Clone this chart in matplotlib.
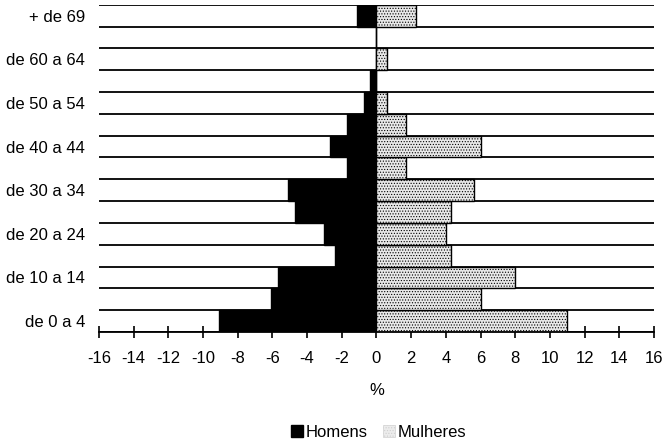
import numpy as np
import matplotlib
matplotlib.use("Agg")
import matplotlib.pyplot as plt
from matplotlib.patches import Patch

plt.rcParams['font.family'] = ['Liberation Sans', 'DejaVu Sans']
plt.rcParams['axes.unicode_minus'] = False
plt.rcParams['hatch.color'] = '#a8a8a8'
plt.rcParams['hatch.linewidth'] = 0.5

# age groups, bottom to top
groups = ["de 0 a 4", "de 5 a 9", "de 10 a 14", "de 15 a 19", "de 20 a 24",
          "de 25 a 29", "de 30 a 34", "de 35 a 39", "de 40 a 44", "de 45 a 49",
          "de 50 a 54", "de 55 a 59", "de 60 a 64", "de 65 a 69", "+ de 69"]
homens = [9.1, 6.1, 5.7, 2.4, 3.0, 4.7, 5.1, 1.7, 2.7, 1.7, 0.7, 0.4, 0.0, 0.0, 1.1]
mulheres = [11.0, 6.0, 8.0, 4.3, 4.0, 4.3, 5.6, 1.7, 6.0, 1.7, 0.6, 0.0, 0.6, 0.0, 2.3]
xmax = 16

fig = plt.figure(figsize=(6.64, 4.42), dpi=100)
ax = fig.add_axes([0.149, 0.249, 0.836, 0.74])

y = np.arange(len(groups))
h = -np.array(homens)
m = np.array(mulheres)

# row separators
ax.hlines(np.arange(len(groups) + 1) - 0.5, -xmax, xmax, color='black', lw=1.3, zorder=1)

ax.barh(y, h, height=1.0, color='black', edgecolor='black', lw=1.0, zorder=2)
ax.barh(y, m, height=1.0, color='#e8e8e8', edgecolor='black', lw=1.0,
        hatch='......', zorder=2)

ax.set_xlim(-xmax, xmax)
ax.set_ylim(-0.5, len(groups) - 0.5)
ax.set_xticks(np.arange(-16, 17, 2))
ax.set_yticks(y[::2])
ax.set_yticklabels(groups[::2])

for s in ['top', 'right', 'left']:
    ax.spines[s].set_visible(False)
ax.spines['bottom'].set_linewidth(1.3)
ax.tick_params(axis='x', direction='inout', length=8, width=1.2, pad=10, labelsize=12)
ax.tick_params(axis='y', length=0, pad=10, labelsize=12)
ax.set_xlabel('%', fontsize=12, labelpad=12)

handles = [Patch(facecolor='black', edgecolor='black', label='Homens'),
           Patch(facecolor='#ececec', edgecolor='#d0d0d0', hatch='......', lw=0.5,
                 label='Mulheres')]
fig.legend(handles=handles, loc='center', bbox_to_anchor=(0.57, 0.022), ncol=2,
           frameon=False, fontsize=12, handlelength=0.75, handleheight=0.75,
           handletextpad=0.15, columnspacing=0.9, borderpad=0)

fig.savefig('out.png', dpi=100)
